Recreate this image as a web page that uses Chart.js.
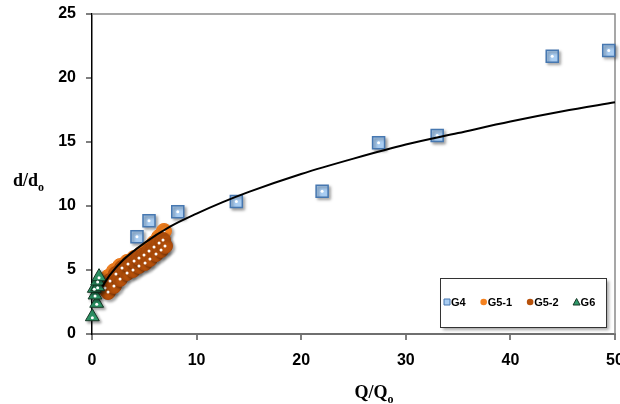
<!DOCTYPE html>
<html>
<head>
<meta charset="utf-8">
<script src="https://cdn.jsdelivr.net/npm/chart.js@4/dist/chart.umd.min.js"></script>
<style>
  html, body { margin: 0; padding: 0; background: #fff; }
  #wrap { width: 620px; height: 404px; }
</style>
</head>
<body>
<div id="wrap"><canvas id="c" width="620" height="404"></canvas></div>
<script>
// Scaled channel width d/do against scaled discharge Q/Qo for four test groups.
const xTickValues = [0, 10, 20, 30, 40, 50];
const yTickValues = [0, 5, 10, 15, 20, 25];

const g4X = [4.3, 5.45, 8.2, 13.8, 22.0, 27.4, 33.0, 44.0, 49.4];
const g4Y = [7.6, 8.85, 9.55, 10.35, 11.15, 14.95, 15.5, 21.7, 22.15];

const g51X = [1.05, 1.53, 2.10, 2.68, 3.35, 4.02, 4.68, 5.35, 5.93, 6.41, 6.88];
const g51Y = [3.98, 4.45, 4.92, 5.31, 5.63, 5.94, 6.25, 6.64, 7.11, 7.58, 8.05];

const g52X = [1.24, 1.53, 1.72, 2.10, 2.29, 2.68, 2.87, 3.35, 3.44, 3.92, 4.02, 4.49,
              4.49, 4.97, 5.07, 5.45, 5.54, 5.93, 6.12, 6.41, 6.60, 6.79, 6.98];
const g52Y = [3.59, 3.28, 4.14, 3.75, 4.69, 4.30, 5.16, 4.77, 5.47, 5.00, 5.70, 5.31,
              5.94, 6.17, 5.55, 6.48, 5.86, 6.80, 6.25, 7.11, 6.56, 7.34, 6.88];

const g6X = [0.03, 0.45, 0.29, 0.22, 0.54, 0.54, 0.67];
const g6Y = [1.35, 2.40, 3.05, 3.57, 3.70, 4.14, 4.48];

// power-law trend line through all groups
const trendX = [1, 1.7, 3, 5, 7.5, 10, 12.5, 15, 20, 25, 30, 35, 40, 45, 50];
const trendY = [3.72, 4.6, 5.8, 7.1, 8.4, 9.4, 10.3, 11.1, 12.5, 13.7, 14.8, 15.7, 16.6, 17.4, 18.1];

const pts = (xs, ys) => xs.map((x, i) => ({ x: x, y: ys[i] }));

const tickFont = { family: '"Liberation Sans", Arial, sans-serif', size: 16, weight: 'bold' };

// soft drop shadow under the markers, white highlight dot on each marker
const markerShadow = {
  id: 'markerShadow',
  beforeDatasetDraw(chart, args) {
    const ds = chart.data.datasets[args.index];
    if (ds.isTrend) return;
    const ctx = chart.ctx;
    ctx.save();
    ctx.shadowColor = 'rgba(0,0,0,0.38)';
    ctx.shadowBlur = 3;
    ctx.shadowOffsetX = 2;
    ctx.shadowOffsetY = 2;
  },
  afterDatasetDraw(chart, args) {
    const ds = chart.data.datasets[args.index];
    if (ds.isTrend) return;
    const ctx = chart.ctx;
    ctx.restore();
    ctx.save();
    ctx.fillStyle = '#ffffff';
    args.meta.data.forEach(el => {
      ctx.beginPath();
      ctx.arc(el.x, el.y + (ds.pointStyle === 'triangle' ? 1 : 0), 1.5, 0, Math.PI * 2);
      ctx.fill();
    });
    ctx.restore();
  }
};

// grey frame on the top and right of the plot area
const plotFrame = {
  id: 'plotFrame',
  beforeDatasetsDraw(chart) {
    const { ctx, chartArea: a } = chart;
    ctx.save();
    ctx.strokeStyle = '#8a8a8a';
    ctx.lineWidth = 1.5;
    ctx.beginPath();
    ctx.moveTo(a.left, a.top);
    ctx.lineTo(a.right, a.top);
    ctx.lineTo(a.right, a.bottom);
    ctx.stroke();
    ctx.restore();
  }
};

// axis titles with subscript "o"
function subText(ctx, x, y, main, sub, align) {
  ctx.font = 'bold 18px "Liberation Serif", "Times New Roman", serif';
  const wMain = ctx.measureText(main).width;
  ctx.font = 'bold 12px "Liberation Serif", "Times New Roman", serif';
  const wSub = ctx.measureText(sub).width;
  let x0 = align === 'center' ? x - (wMain + wSub) / 2 : x;
  ctx.font = 'bold 18px "Liberation Serif", "Times New Roman", serif';
  ctx.fillText(main, x0, y);
  ctx.font = 'bold 12px "Liberation Serif", "Times New Roman", serif';
  ctx.fillText(sub, x0 + wMain, y + 5);
}
const axisTitles = {
  id: 'axisTitles',
  afterDraw(chart) {
    const ctx = chart.ctx;
    ctx.save();
    ctx.fillStyle = '#000';
    ctx.textBaseline = 'alphabetic';
    ctx.textAlign = 'left';
    subText(ctx, 13, 186, 'd/d', 'o', 'left');
    subText(ctx, 374, 398, 'Q/Q', 'o', 'center');
    ctx.restore();
  }
};

// boxed legend inside the plot, bottom right
const boxLegend = {
  id: 'boxLegend',
  afterDraw(chart) {
    const ctx = chart.ctx;
    const bx = 440, by = 278, bw = 166, bh = 49;
    ctx.save();
    ctx.shadowColor = 'rgba(0,0,0,0.35)';
    ctx.shadowBlur = 3;
    ctx.shadowOffsetX = 3;
    ctx.shadowOffsetY = 3;
    ctx.fillStyle = '#fff';
    ctx.fillRect(bx, by, bw, bh);
    ctx.restore();
    ctx.save();
    ctx.strokeStyle = '#333';
    ctx.lineWidth = 1;
    ctx.strokeRect(bx + 0.5, by + 0.5, bw, bh);
    ctx.font = 'bold 11px "Liberation Sans", Arial, sans-serif';
    ctx.textBaseline = 'middle';
    ctx.textAlign = 'left';
    const cy = 302;
    let cx = 444;
    chart.data.datasets.filter(d => !d.isTrend).sort((a, b) => a.legendIndex - b.legendIndex).forEach(d => {
      const mx = cx + 3;
      ctx.fillStyle = d.backgroundColor;
      ctx.strokeStyle = d.borderColor;
      ctx.lineWidth = 1;
      ctx.beginPath();
      if (d.pointStyle === 'rect') {
        ctx.rect(mx - 3, cy - 3, 6, 6);
      } else if (d.pointStyle === 'triangle') {
        ctx.moveTo(mx, cy - 3.5);
        ctx.lineTo(mx + 3.5, cy + 3);
        ctx.lineTo(mx - 3.5, cy + 3);
        ctx.closePath();
      } else {
        ctx.arc(mx, cy, 3.3, 0, Math.PI * 2);
      }
      ctx.fill();
      if (d.pointStyle === 'rect' || d.pointStyle === 'triangle') ctx.stroke();
      ctx.fillStyle = '#000';
      ctx.fillText(d.label, cx + 7, cy + 0.5);
      cx += 7 + ctx.measureText(d.label).width + 15;
    });
    ctx.restore();
  }
};

new Chart(document.getElementById('c'), {
  type: 'scatter',
  data: {
    datasets: [
      {
        label: 'trend', isTrend: true, type: 'line',
        data: pts(trendX, trendY),
        borderColor: '#000', borderWidth: 2, pointRadius: 0,
        cubicInterpolationMode: 'monotone', fill: false, order: 0, clip: false
      },
      {
        label: 'G6', legendIndex: 3, data: pts(g6X, g6Y),
        pointStyle: 'triangle', pointRadius: 8,
        backgroundColor: '#2f9a6a', borderColor: '#163826', borderWidth: 1,
        order: 1, clip: false
      },
      {
        label: 'G5-2', legendIndex: 2, data: pts(g52X, g52Y),
        pointStyle: 'circle', pointRadius: 7.5,
        backgroundColor: '#b7510b', borderColor: '#a8480a', borderWidth: 1,
        order: 2, clip: false
      },
      {
        label: 'G5-1', legendIndex: 1, data: pts(g51X, g51Y),
        pointStyle: 'circle', pointRadius: 7.5,
        backgroundColor: '#f5821f', borderColor: '#e8761a', borderWidth: 1,
        order: 3, clip: false
      },
      {
        label: 'G4', legendIndex: 0, data: pts(g4X, g4Y),
        pointStyle: 'rect', pointRadius: 8.5,
        backgroundColor: '#a9cdf2', borderColor: '#4677b0', borderWidth: 1.5,
        order: 4, clip: false
      }
    ]
  },
  options: {
    responsive: false,
    animation: false,
    devicePixelRatio: 1,
    layout: { autoPadding: false, padding: { top: 14, right: 5, left: 0, bottom: 0 } },
    plugins: { legend: { display: false }, tooltip: { enabled: false } },
    scales: {
      x: {
        type: 'linear', min: 0, max: 50,
        afterBuildTicks: s => { s.ticks = xTickValues.map(v => ({ value: v })); },
        afterFit: s => { s.height = 70; s.paddingLeft = 0; s.paddingRight = 0; },
        ticks: { font: tickFont, color: '#000', padding: 11, maxRotation: 0, autoSkip: false },
        grid: { drawOnChartArea: false, tickLength: 6, color: '#7f7f7f', lineWidth: 2 },
        border: { color: '#6f6f6f', width: 2 }
      },
      y: {
        type: 'linear', min: 0, max: 25,
        afterBuildTicks: s => { s.ticks = yTickValues.map(v => ({ value: v })); },
        afterFit: s => { s.width = 92; s.paddingTop = 0; s.paddingBottom = 0; },
        ticks: { font: tickFont, color: '#000', padding: 10 },
        grid: { drawOnChartArea: false, tickLength: 6, color: '#7f7f7f', lineWidth: 2 },
        border: { color: '#000', width: 1.5 }
      }
    }
  },
  plugins: [plotFrame, markerShadow, axisTitles, boxLegend]
});
</script>
</body>
</html>
